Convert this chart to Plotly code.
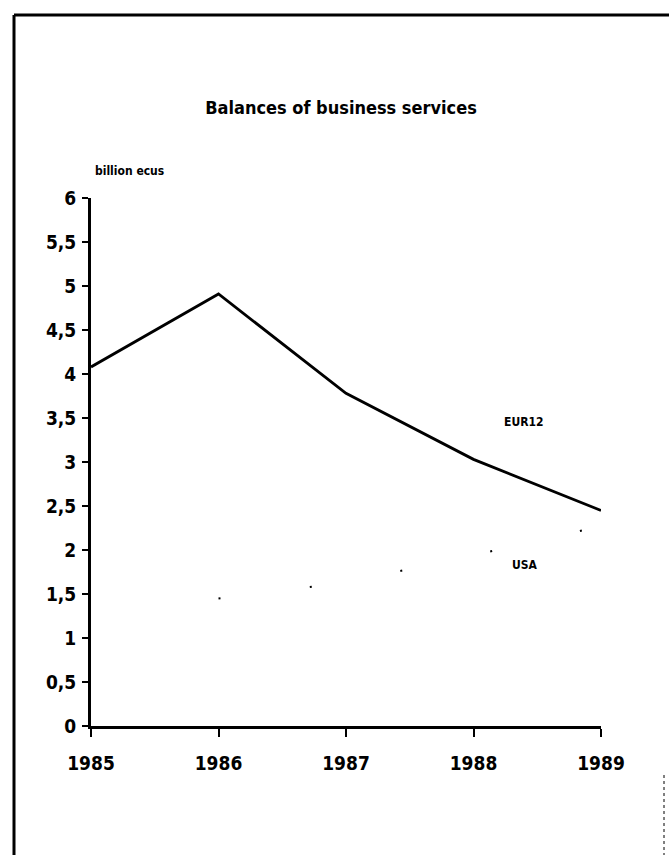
import plotly.graph_objects as go

# ---- data -------------------------------------------------------------
years = [1985, 1986, 1987, 1988, 1989]
eur12 = [4.08, 4.91, 3.78, 3.03, 2.45]

usa_years = [1986, 1987, 1988, 1989]
usa = [1.45, 1.63, 1.94, 2.27]

y_tick_values = [0, 0.5, 1, 1.5, 2, 2.5, 3, 3.5, 4, 4.5, 5, 5.5, 6]
y_tick_labels = ["0", "0,5", "1", "1,5", "2", "2,5", "3", "3,5", "4", "4,5", "5", "5,5", "6"]
x_tick_labels = ["1985", "1986", "1987", "1988", "1989"]

# ---- page geometry (pixels) -------------------------------------------
W, H = 669, 855
M_LEFT, M_RIGHT, M_TOP, M_BOTTOM = 91, 68, 198, 129
PW = W - M_LEFT - M_RIGHT
PH = H - M_TOP - M_BOTTOM


def px_x(x):
    return (x - M_LEFT) / PW


def px_y(y):
    return (H - M_BOTTOM - y) / PH


FONT = "Liberation Sans Narrow, DejaVu Sans Condensed, Arial Narrow, sans-serif"

fig = go.Figure()

fig.add_trace(go.Scatter(
    x=years, y=eur12, mode="lines", name="EUR12",
    line=dict(color="black", width=2.8), hoverinfo="skip",
))

# USA series: a faint, widely spaced dotted line
fig.add_trace(go.Scatter(
    x=usa_years, y=usa, mode="lines", name="USA",
    line=dict(color="black", width=2, dash="2px,90px"), hoverinfo="skip",
))

fig.update_layout(
    width=W, height=H,
    margin=dict(l=M_LEFT, r=M_RIGHT, t=M_TOP, b=M_BOTTOM, pad=0),
    paper_bgcolor="white", plot_bgcolor="white",
    showlegend=False,
    font=dict(family=FONT, color="black"),
    title=dict(
        text="<b>Balances of business services</b>",
        x=341 / W, xref="container", xanchor="center",
        y=1 - 108 / H, yref="container", yanchor="middle",
        font=dict(family=FONT, size=18, color="black"),
    ),
    xaxis=dict(
        range=[1985, 1989], tickvals=years, ticktext=x_tick_labels,
        showgrid=False, zeroline=False,
        showline=True, linecolor="black", linewidth=3,
        ticks="outside", ticklen=8, tickwidth=2, tickcolor="black",
        ticklabelstandoff=10,
        tickfont=dict(family=FONT, size=19, color="black", weight="bold"),
    ),
    yaxis=dict(
        range=[0, 6], tickvals=y_tick_values, ticktext=y_tick_labels,
        showgrid=False, zeroline=False,
        showline=True, linecolor="black", linewidth=3,
        ticks="outside", ticklen=6, tickwidth=2, tickcolor="black",
        ticklabelstandoff=2,
        tickfont=dict(family=FONT, size=19, color="black", weight="bold"),
    ),
)

# axis unit and series labels
fig.add_annotation(
    x=px_x(93), y=px_y(171), xref="paper", yref="paper",
    xanchor="left", yanchor="middle", showarrow=False,
    text="<b>billion ecus</b>", font=dict(family=FONT, size=12, color="black"),
)
fig.add_annotation(
    x=1988.39, y=3.45, xref="x", yref="y", showarrow=False,
    text="<b>EUR12</b>", font=dict(family=FONT, size=12, color="black"),
)
fig.add_annotation(
    x=1988.40, y=1.83, xref="x", yref="y", showarrow=False,
    text="<b>USA</b>", font=dict(family=FONT, size=12, color="black"),
)

# page frame
frame = dict(xref="paper", yref="paper", type="line")
fig.add_shape(**frame, x0=px_x(14), x1=px_x(W), y0=px_y(15), y1=px_y(15),
              line=dict(color="black", width=3))
fig.add_shape(**frame, x0=px_x(14), x1=px_x(14), y0=px_y(15), y1=px_y(H),
              line=dict(color="black", width=3))
fig.add_shape(**frame, x0=px_x(664), x1=px_x(664), y0=px_y(775), y1=px_y(H),
              line=dict(color="black", width=1, dash="dot"))

fig.write_html("out.html")
